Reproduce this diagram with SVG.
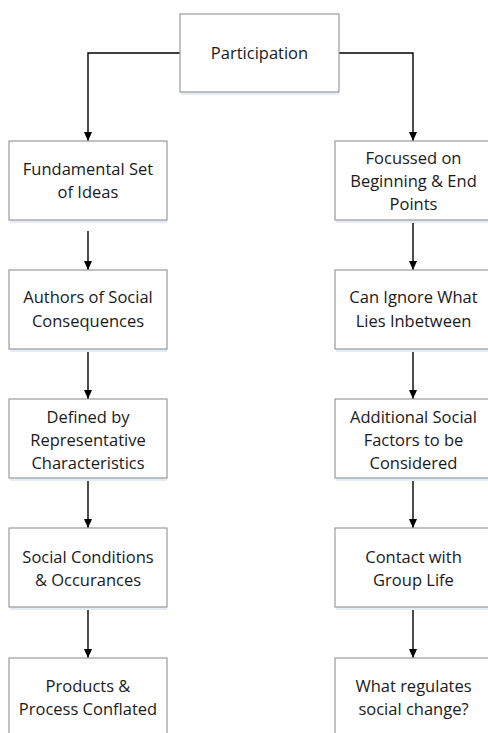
<svg xmlns="http://www.w3.org/2000/svg" width="488" height="733" viewBox="0 0 488 733">
<style>
.box{fill:#ffffff;stroke:#9a9a9a;stroke-width:1.2}
.sh{fill:#e6ecf5}
.t{font-family:"Open Sans","Noto Sans",sans-serif;font-size:16.5px;fill:#1a1a1a;text-anchor:middle}
.c{fill:none;stroke:#000;stroke-width:1.4;marker-end:url(#ah)}
</style>
<defs>
<marker id="ah" markerWidth="9" markerHeight="8" refX="9" refY="4" orient="auto" markerUnits="userSpaceOnUse" viewBox="0 0 9 8">
<path d="M0,0 L9,4 L0,8 Z" fill="#000"/>
</marker>
</defs>
<g id="connectors">
<path class="c" d="M180,53 H88 V141"/>
<path class="c" d="M339,53 H413 V141"/>
<path class="c" d="M88,231 V270"/>
<path class="c" d="M88,349 V399"/>
<path class="c" d="M88,478 V528"/>
<path class="c" d="M88,607 V658"/>
<path class="c" d="M413,220 V270"/>
<path class="c" d="M413,349 V399"/>
<path class="c" d="M413,478 V528"/>
<path class="c" d="M413,607 V658"/>
</g>
<g id="participation">
<rect class="sh" x="181" y="92" width="158" height="3"/>
<rect class="box" x="180" y="14" width="159" height="78"/>
<text class="t" x="259.5" y="59">Participation</text>
</g>
<g id="fundamental">
<rect class="sh" x="10" y="220" width="157" height="3"/>
<rect class="box" x="9" y="141" width="158" height="79"/>
<text class="t" x="88" y="175">Fundamental Set</text>
<text class="t" x="88" y="198">of Ideas</text>
</g>
<g id="authors">
<rect class="sh" x="10" y="349" width="157" height="3"/>
<rect class="box" x="9" y="270" width="158" height="79"/>
<text class="t" x="88" y="303">Authors of Social</text>
<text class="t" x="88" y="327">Consequences</text>
</g>
<g id="defined">
<rect class="sh" x="10" y="478" width="157" height="3"/>
<rect class="box" x="9" y="399" width="158" height="79"/>
<text class="t" x="88" y="423">Defined by</text>
<text class="t" x="88" y="446">Representative</text>
<text class="t" x="88" y="469">Characteristics</text>
</g>
<g id="social-conditions">
<rect class="sh" x="10" y="607" width="157" height="3"/>
<rect class="box" x="9" y="528" width="158" height="79"/>
<text class="t" x="88" y="563">Social Conditions</text>
<text class="t" x="88" y="586">&amp; Occurances</text>
</g>
<g id="products">
<rect class="box" x="9" y="658" width="158" height="79"/>
<text class="t" x="88" y="692">Products &amp;</text>
<text class="t" x="88" y="715">Process Conflated</text>
</g>
<g id="focussed">
<rect class="sh" x="336" y="220" width="157" height="3"/>
<rect class="box" x="335" y="141" width="158" height="79"/>
<text class="t" x="413.5" y="164">Focussed on</text>
<text class="t" x="413.5" y="187">Beginning &amp; End</text>
<text class="t" x="413.5" y="210">Points</text>
</g>
<g id="ignore">
<rect class="sh" x="336" y="349" width="157" height="3"/>
<rect class="box" x="335" y="270" width="158" height="79"/>
<text class="t" x="413.5" y="303">Can Ignore What</text>
<text class="t" x="413.5" y="327">Lies Inbetween</text>
</g>
<g id="additional">
<rect class="sh" x="336" y="478" width="157" height="3"/>
<rect class="box" x="335" y="399" width="158" height="79"/>
<text class="t" x="413.5" y="423">Additional Social</text>
<text class="t" x="413.5" y="446">Factors to be</text>
<text class="t" x="413.5" y="469">Considered</text>
</g>
<g id="contact">
<rect class="sh" x="336" y="607" width="157" height="3"/>
<rect class="box" x="335" y="528" width="158" height="79"/>
<text class="t" x="413.5" y="563">Contact with</text>
<text class="t" x="413.5" y="586">Group Life</text>
</g>
<g id="regulates">
<rect class="box" x="335" y="658" width="158" height="79"/>
<text class="t" x="413.5" y="692">What regulates</text>
<text class="t" x="413.5" y="715">social change?</text>
</g>
</svg>
